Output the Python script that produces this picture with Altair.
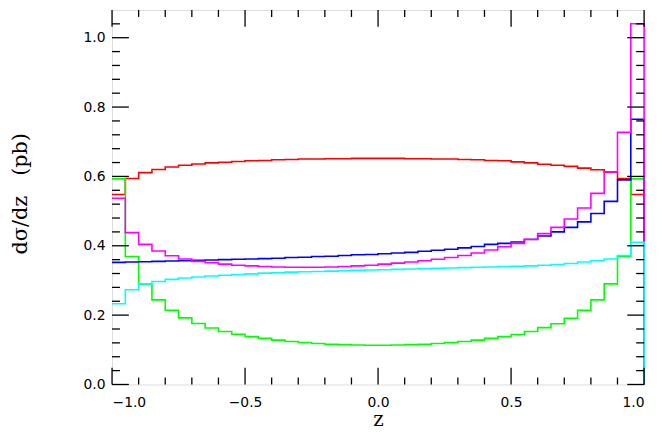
import altair as alt
import pandas as pd

# 40 bins of width 0.05 from z=-1 to z=1 (left edges)
bin_lo = [round(-1 + 0.05 * i, 2) for i in range(40)]
z_max = 1.0

red = [0.548, 0.594, 0.611, 0.620, 0.627, 0.632, 0.636, 0.639, 0.641, 0.643,
       0.645, 0.646, 0.648, 0.649, 0.650, 0.650, 0.651, 0.651, 0.652, 0.652,
       0.652, 0.652, 0.651, 0.651, 0.650, 0.650, 0.649, 0.648, 0.646, 0.645,
       0.642, 0.639, 0.635, 0.632, 0.629, 0.624, 0.619, 0.612, 0.594, 0.548]
green = [0.593, 0.369, 0.289, 0.244, 0.214, 0.192, 0.176, 0.163, 0.153, 0.145,
         0.138, 0.133, 0.128, 0.124, 0.121, 0.118, 0.116, 0.115, 0.114, 0.113,
         0.113, 0.114, 0.115, 0.116, 0.118, 0.121, 0.124, 0.128, 0.133, 0.138,
         0.144, 0.153, 0.164, 0.175, 0.191, 0.214, 0.244, 0.290, 0.369, 0.593]
blue = [0.352, 0.353, 0.354, 0.355, 0.356, 0.357, 0.358, 0.359, 0.360, 0.361,
        0.362, 0.363, 0.364, 0.366, 0.367, 0.369, 0.370, 0.372, 0.374, 0.375,
        0.377, 0.379, 0.381, 0.384, 0.387, 0.390, 0.394, 0.398, 0.404, 0.407,
        0.411, 0.418, 0.428, 0.440, 0.453, 0.469, 0.493, 0.528, 0.590, 0.765]
magenta = [0.537, 0.438, 0.404, 0.385, 0.371, 0.362, 0.355, 0.351, 0.347, 0.344,
           0.342, 0.340, 0.339, 0.338, 0.338, 0.338, 0.339, 0.340, 0.342, 0.344,
           0.347, 0.350, 0.353, 0.357, 0.361, 0.366, 0.372, 0.379, 0.388, 0.397,
           0.407, 0.419, 0.435, 0.453, 0.477, 0.509, 0.551, 0.613, 0.727, 1.040]
cyan = [0.233, 0.273, 0.290, 0.297, 0.303, 0.307, 0.310, 0.313, 0.315, 0.317,
        0.319, 0.321, 0.322, 0.324, 0.325, 0.326, 0.327, 0.328, 0.329, 0.330,
        0.331, 0.332, 0.333, 0.334, 0.335, 0.336, 0.337, 0.338, 0.339, 0.340,
        0.341, 0.342, 0.344, 0.346, 0.349, 0.353, 0.357, 0.362, 0.372, 0.410]

series = [("red", red, "#ff0000"), ("green", green, "#00ff00"),
          ("blue", blue, "#0000ff"), ("magenta", magenta, "#ff00ff"),
          ("cyan", cyan, "#00ffff")]

x_major = [-1.0, -0.5, 0.0, 0.5, 1.0]
x_minor = [-0.9, -0.8, -0.7, -0.6, -0.4, -0.3, -0.2, -0.1,
           0.1, 0.2, 0.3, 0.4, 0.6, 0.7, 0.8, 0.9]
y_major = [0.0, 0.2, 0.4, 0.6, 0.8, 1.0]
y_minor = [0.04, 0.08, 0.12, 0.16, 0.24, 0.28, 0.32, 0.36, 0.44, 0.48, 0.52, 0.56,
           0.64, 0.68, 0.72, 0.76, 0.84, 0.88, 0.92, 0.96, 1.04]

x_title = "z"
y_title = "dσ/dz\u00a0\u00a0\u00a0(pb)"

W, H = 537, 378
x_scale = alt.Scale(domain=[-1, 1], nice=False, zero=False)
y_scale = alt.Scale(domain=[0, 1.08], nice=False, zero=False)

x_axis = alt.Axis(values=x_major, format=".1f", ticks=False, domain=False,
                  grid=False, labelFont="DejaVu Sans", labelFontSize=14,
                  labelColor="black", labelPadding=11, title=x_title,
                  titleFont="DejaVu Serif", titleFontSize=20,
                  titleFontWeight="normal", titleColor="black", titlePadding=0)
y_axis = alt.Axis(values=y_major, format=".1f", ticks=False, domain=False,
                  grid=False, labelFont="DejaVu Sans", labelFontSize=14,
                  labelColor="black", labelPadding=7, title=y_title,
                  titleFont="DejaVu Serif", titleFontSize=21,
                  titleFontWeight="normal", titleColor="black",
                  titleX=-92, titleY=185, titleBaseline="middle",
                  titleAlign="center", titleAngle=270)

series_layers = []
for name, vals, col in series:
    df = pd.DataFrame({"z": bin_lo + [z_max, z_max],
                       "v": vals + [vals[-1], 0.0]})
    series_layers.append(
        alt.Chart(df).mark_line(interpolate="step-after", color=col,
                                strokeWidth=1.6, clip=False).encode(
            x=alt.X("z:Q", scale=x_scale, axis=x_axis, title=x_title),
            y=alt.Y("v:Q", scale=y_scale, axis=y_axis, title=y_title),
        )
    )

def xticks(vals, length):
    d = pd.DataFrame({"t": vals})
    bottom = alt.Chart(d).mark_rule(color="black", strokeWidth=1.3).encode(
        x=alt.X("t:Q", scale=x_scale, axis=x_axis, title=x_title),
        y=alt.value(H), y2=alt.value(H - length))
    top = alt.Chart(d).mark_rule(color="black", strokeWidth=1.3).encode(
        x=alt.X("t:Q", scale=x_scale, axis=x_axis, title=x_title),
        y=alt.value(0), y2=alt.value(length))
    return [bottom, top]

def yticks(vals, length):
    d = pd.DataFrame({"t": vals})
    left = alt.Chart(d).mark_rule(color="black", strokeWidth=1.3).encode(
        y=alt.Y("t:Q", scale=y_scale, axis=y_axis, title=y_title),
        x=alt.value(0), x2=alt.value(length))
    right = alt.Chart(d).mark_rule(color="black", strokeWidth=1.3).encode(
        y=alt.Y("t:Q", scale=y_scale, axis=y_axis, title=y_title),
        x=alt.value(W), x2=alt.value(W - length))
    return [left, right]

tick_layers = (xticks(x_major, 17) + xticks(x_minor, 7)
               + yticks(y_major, 17) + yticks(y_minor, 8))

chart = alt.layer(*series_layers, *tick_layers).properties(
    width=W, height=H,
    autosize=alt.AutoSizeParams(type="none"),
    padding={"left": 105, "top": 0, "right": 10, "bottom": 48},
).configure_view(stroke="black", strokeWidth=2).configure(background="white")

chart.save("out.html", embed_options={"renderer": "svg", "actions": False})
